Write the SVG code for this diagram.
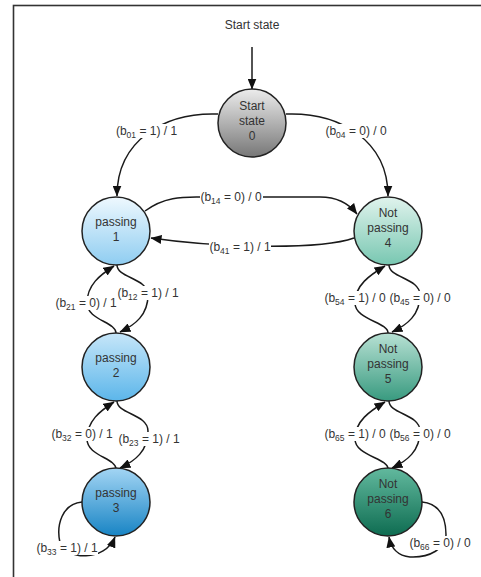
<svg xmlns="http://www.w3.org/2000/svg" width="481" height="577" viewBox="0 0 481 577">
<style>
.frame{fill:none;stroke:#333;stroke-width:1.6}
.node circle{stroke:#222;stroke-width:1.5}
.nt{font-family:"Liberation Sans",Arial,sans-serif;font-size:12px;fill:#333;text-anchor:middle}
.edge{fill:none;stroke:#1a1a1a;stroke-width:1.5;marker-end:url(#ah)}
.lbg{fill:#fff}
.lt{font-family:"Liberation Sans",Arial,sans-serif;font-size:12px;fill:#333;text-anchor:middle}
.s{font-size:8.5px}
</style>
<defs>
<marker id="ah" viewBox="0 0 11 9" refX="10.5" refY="4.5" markerWidth="11" markerHeight="9" markerUnits="userSpaceOnUse" orient="auto">
<path d="M0,0 L11,4.5 L0,9 z" fill="#111"/>
</marker>
<linearGradient id="g0" x1="0" y1="0" x2="0" y2="1"><stop offset="0" stop-color="#ececec"/><stop offset="1" stop-color="#777"/></linearGradient>
<linearGradient id="g1" x1="0" y1="0" x2="0" y2="1"><stop offset="0" stop-color="#eef8fe"/><stop offset="1" stop-color="#8fcdf1"/></linearGradient>
<linearGradient id="g2" x1="0" y1="0" x2="0" y2="1"><stop offset="0" stop-color="#c6e6f9"/><stop offset="1" stop-color="#5cb6ea"/></linearGradient>
<linearGradient id="g3" x1="0" y1="0" x2="0" y2="1"><stop offset="0" stop-color="#a3d5f4"/><stop offset="1" stop-color="#1884c4"/></linearGradient>
<linearGradient id="g4" x1="0" y1="0" x2="0" y2="1"><stop offset="0" stop-color="#e0f3ed"/><stop offset="1" stop-color="#78c7b1"/></linearGradient>
<linearGradient id="g5" x1="0" y1="0" x2="0" y2="1"><stop offset="0" stop-color="#b8e1d4"/><stop offset="1" stop-color="#389a7f"/></linearGradient>
<linearGradient id="g6" x1="0" y1="0" x2="0" y2="1"><stop offset="0" stop-color="#62b99e"/><stop offset="1" stop-color="#0e6c51"/></linearGradient>
</defs>
<rect width="481" height="577" fill="#fff"/>
<rect class="frame" x="13.5" y="5.5" width="520" height="620"/>
<text class="nt" x="252" y="29">Start state</text>

<g id="connectors">
<path class="edge" d="M252,47 L252,89"/>
<path class="edge" d="M218,114 C165,112 117,140 117,196"/>
<path class="edge" d="M286,114 C339,112 388,140 388,196"/>
<path class="edge" d="M145,211 C165,196 185,197 200,197 L320,197 C338,197 350,205 357,214"/>
<path class="edge" d="M354,238 C320,250 220,248 151,238"/>
<path class="edge" d="M117,265 C117,278 148,278 148,295 C148,315 135,325 120,332"/>
<path class="edge" d="M116,333 C116,322 87,320 87,303 C87,285 100,275 114,266"/>
<path class="edge" d="M117,401 C117,414 148,414 148,431 C148,451 135,461 120,468"/>
<path class="edge" d="M116,469 C116,458 87,456 87,439 C87,421 100,411 114,402"/>
<path class="edge" d="M389,265 C389,278 420,278 420,295 C420,315 407,325 392,332"/>
<path class="edge" d="M388,333 C388,322 355,320 355,303 C355,285 370,275 385,266"/>
<path class="edge" d="M389,401 C389,414 420,414 420,431 C420,451 407,461 392,468"/>
<path class="edge" d="M388,469 C388,458 355,456 355,439 C355,421 370,411 385,402"/>
<path class="edge" d="M82,502 C62,504 56,525 60,543 C66,560 105,562 115,537"/>
<path class="edge" d="M422,502 C440,504 446,518 446,535 C446,548 430,558 410,557 C398,556 391,548 389,537"/>
</g>

<g id="labels">
<g><rect class="lbg" x="115" y="124" width="63" height="14"/><text class="lt" x="146.5" y="135">(b<tspan class="s" dy="2.5">01</tspan><tspan dy="-2.5"> = 1) / 1</tspan></text></g>
<g><rect class="lbg" x="325" y="124" width="63" height="14"/><text class="lt" x="356" y="135">(b<tspan class="s" dy="2.5">04</tspan><tspan dy="-2.5"> = 0) / 0</tspan></text></g>
<g><rect class="lbg" x="200" y="190" width="63" height="14"/><text class="lt" x="231" y="201">(b<tspan class="s" dy="2.5">14</tspan><tspan dy="-2.5"> = 0) / 0</tspan></text></g>
<g><rect class="lbg" x="209" y="240" width="62" height="14"/><text class="lt" x="240" y="251">(b<tspan class="s" dy="2.5">41</tspan><tspan dy="-2.5"> = 1) / 1</tspan></text></g>
<g><rect class="lbg" x="117" y="286" width="62" height="14"/><text class="lt" x="148" y="297">(b<tspan class="s" dy="2.5">12</tspan><tspan dy="-2.5"> = 1) / 1</tspan></text></g>
<g><rect class="lbg" x="55" y="296" width="62" height="14"/><text class="lt" x="86" y="307">(b<tspan class="s" dy="2.5">21</tspan><tspan dy="-2.5"> = 0) / 1</tspan></text></g>
<g><rect class="lbg" x="51" y="427" width="62" height="14"/><text class="lt" x="82" y="438">(b<tspan class="s" dy="2.5">32</tspan><tspan dy="-2.5"> = 0) / 1</tspan></text></g>
<g><rect class="lbg" x="118" y="432" width="62" height="14"/><text class="lt" x="149" y="443">(b<tspan class="s" dy="2.5">23</tspan><tspan dy="-2.5"> = 1) / 1</tspan></text></g>
<g><rect class="lbg" x="324" y="291" width="62" height="14"/><text class="lt" x="355" y="302">(b<tspan class="s" dy="2.5">54</tspan><tspan dy="-2.5"> = 1) / 0</tspan></text></g>
<g><rect class="lbg" x="389" y="291" width="62" height="14"/><text class="lt" x="420" y="302">(b<tspan class="s" dy="2.5">45</tspan><tspan dy="-2.5"> = 0) / 0</tspan></text></g>
<g><rect class="lbg" x="324" y="427" width="62" height="14"/><text class="lt" x="355" y="438">(b<tspan class="s" dy="2.5">65</tspan><tspan dy="-2.5"> = 1) / 0</tspan></text></g>
<g><rect class="lbg" x="389" y="427" width="62" height="14"/><text class="lt" x="420" y="438">(b<tspan class="s" dy="2.5">56</tspan><tspan dy="-2.5"> = 0) / 0</tspan></text></g>
<g><rect class="lbg" x="36" y="541" width="62" height="14"/><text class="lt" x="67" y="552">(b<tspan class="s" dy="2.5">33</tspan><tspan dy="-2.5"> = 1) / 1</tspan></text></g>
<g><rect class="lbg" x="409" y="536" width="62" height="14"/><text class="lt" x="440" y="547">(b<tspan class="s" dy="2.5">66</tspan><tspan dy="-2.5"> = 0) / 0</tspan></text></g>
</g>

<g id="n0" class="node"><circle cx="252" cy="123" r="34" fill="url(#g0)"/><text class="nt" x="252" y="110">Start</text><text class="nt" x="252" y="125">state</text><text class="nt" x="252" y="140">0</text></g>
<g id="n1" class="node"><circle cx="116" cy="231" r="34" fill="url(#g1)"/><text class="nt" x="116" y="226">passing</text><text class="nt" x="116" y="241">1</text></g>
<g id="n2" class="node"><circle cx="116" cy="367" r="34" fill="url(#g2)"/><text class="nt" x="116" y="362">passing</text><text class="nt" x="116" y="377">2</text></g>
<g id="n3" class="node"><circle cx="116" cy="502" r="34" fill="url(#g3)"/><text class="nt" x="116" y="497">passing</text><text class="nt" x="116" y="512">3</text></g>
<g id="n4" class="node"><circle cx="388" cy="231" r="34" fill="url(#g4)"/><text class="nt" x="388" y="217">Not</text><text class="nt" x="388" y="232">passing</text><text class="nt" x="388" y="247">4</text></g>
<g id="n5" class="node"><circle cx="388" cy="367" r="34" fill="url(#g5)"/><text class="nt" x="388" y="353">Not</text><text class="nt" x="388" y="368">passing</text><text class="nt" x="388" y="383">5</text></g>
<g id="n6" class="node"><circle cx="388" cy="502" r="34" fill="url(#g6)"/><text class="nt" x="388" y="488">Not</text><text class="nt" x="388" y="503">passing</text><text class="nt" x="388" y="518">6</text></g>
</svg>
